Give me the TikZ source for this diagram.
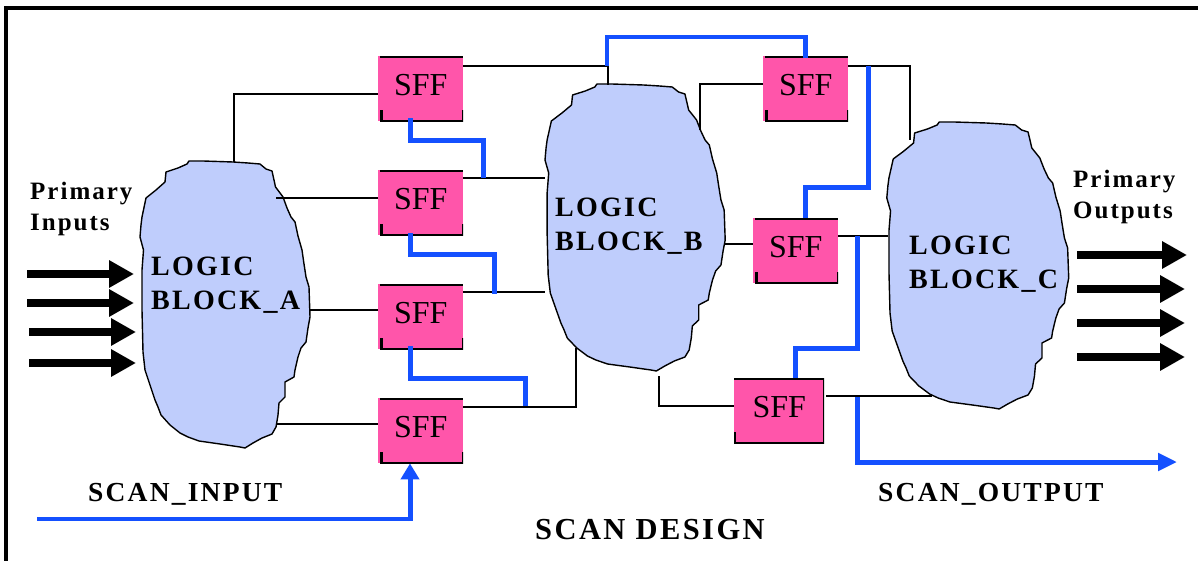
\documentclass[tikz,border=0pt]{standalone}
\usepackage{fontspec}
\setmainfont{Liberation Serif}
\newfontfamily\lblfont[LetterSpace=8]{Liberation Serif Bold}
\usetikzlibrary{arrows.meta,calc}
\definecolor{blobblue}{HTML}{BFCDFC}
\definecolor{sffpink}{HTML}{FF55AA}
\definecolor{scanblue}{HTML}{1450FF}
\newcommand{\blobpath}{(189,161) -- (203,161) -- (233,162) -- (248,163) -- (260,164) -- (266,169) -- (272,171) -- (274,180) -- (275.5,187) -- (283,197) -- (287,208) -- (291,217) -- (295,222) -- (298,236) -- (302,250) -- (304,264) -- (306,277) -- (309,287) -- (310,317) -- (308,328) -- (306,342) -- (301,348) -- (298,357) -- (295,370) -- (294,377) -- (285,382) -- (285,397) -- (279,403) -- (278,415) -- (276,427) -- (272,434) -- (262,438) -- (253,443) -- (245,448) -- (240,447) -- (220,444) -- (199,441) -- (188,437) -- (180,433) -- (170,425) -- (161,415) -- (158,407) -- (155,400) -- (150,385) -- (145,370) -- (143,352) -- (142,310) -- (142,270) -- (143.5,250) -- (140,237) -- (141,225) -- (142,217) -- (146,198) -- (156,190) -- (165,182) -- (166,172) -- (178,168) -- (187,164) -- cycle}
\tikzset{
  x=1pt,y=-1pt,
  blobshape/.style={draw=black,fill=blobblue,line width=1.4pt,line join=round},
  sffbox/.style={rectangle,fill=sffpink,draw=none,inner sep=0pt,anchor=north west,minimum width=85pt,
    text height=39pt,text depth=26pt,font=\fontsize{32}{34}\selectfont,
    path picture={\draw[black,line width=3pt]
      ([xshift=2pt]path picture bounding box.north west) -- (path picture bounding box.north east)
      ([xshift=3pt,yshift=11pt]path picture bounding box.south west) -- ([xshift=3pt]path picture bounding box.south west)
      -- (path picture bounding box.south east) -- ([yshift=11pt]path picture bounding box.south east);}},
  sffframed/.style={sffbox,minimum width=90pt,
    path picture={\draw[black,line width=3pt]
      (path picture bounding box.north west) -- (path picture bounding box.north east)
      -- (path picture bounding box.south east) -- (path picture bounding box.south west) -- ++(0,11pt);}},
  wire/.style={draw=black,line width=1.3pt},
  scan/.style={draw=scanblue,line width=5pt},
  scanthin/.style={draw=scanblue,line width=3.5pt},
  bigarrow/.style={draw=black,line width=8pt,-{Triangle[length=25pt,width=26pt]}},
  lbl/.style={anchor=base west,inner sep=0pt,align=left,font=\fontsize{28}{34}\lblfont},
  smalllbl/.style={anchor=base west,inner sep=0pt,align=left,font=\fontsize{25}{32}\lblfont},
  scanlbl/.style={anchor=base west,inner sep=0pt,font=\fontsize{27.5}{32}\lblfont},
}
\begin{document}
\begin{tikzpicture}
\useasboundingbox (0,0) rectangle (1198,561);
\fill[white] (0,0) rectangle (1198,561);
% frame
\draw[black,line width=3.5pt] (6,561) -- (6,8) -- (1198,8);
% port coordinates on the logic blocks
\coordinate (aTop) at (234,162);
\coordinate (aS2) at (276,198);
\coordinate (aS3) at (310,310);
\coordinate (aS4) at (276,424);
\coordinate (bTop) at (608,85);
\coordinate (bS2) at (545,178);
\coordinate (bS3) at (545,292);
\coordinate (bS4) at (576,348);
\coordinate (bS5) at (700,130);
\coordinate (bS6) at (725,244);
\coordinate (bS7) at (659,376);
\coordinate (cS5) at (910,140);
\coordinate (cS6) at (888,236);
\coordinate (cS7) at (932,396);
% flip-flops
\node[sffbox] (sff1) at (378,56) {SFF};
\node[sffbox] (sff2) at (378,170) {SFF};
\node[sffbox] (sff3) at (378,284) {SFF};
\node[sffbox] (sff4) at (378,398) {SFF};
\node[sffbox] (sff5) at (763,56) {SFF};
\node[sffbox] (sff6) at (753,218) {SFF};
\node[sffframed] (sff7) at (734,378) {SFF};
% logic blocks
\path[blobshape] \blobpath;
\begin{scope}[shift={(396.6,-77)},xscale=1.06]
\path[blobshape] \blobpath;
\end{scope}
\begin{scope}[shift={(737,-39)},xscale=1.07]
\path[blobshape] \blobpath;
\end{scope}
\node[lbl] (la) at (151,309) {LOGIC\\BLOCK\_A};
\node[lbl] (lb) at (555,251) {LOGIC\\BLOCK\_B};
\node[lbl] (lc) at (909,288) {LOGIC\\BLOCK\_C};
% black wires
\draw[wire] (aTop) |- ($(sff1.north west)+(0,38)$);
\draw[wire] (aS2) -- ($(sff2.north west)+(0,28)$);
\draw[wire] (aS3) -- ($(sff3.north west)+(0,26)$);
\draw[wire] (aS4) -- ($(sff4.north west)+(0,26)$);
\draw[wire] ($(sff1.north east)+(0,10)$) -| (bTop);
\draw[wire] ($(sff2.north east)+(0,8)$) -- (bS2);
\draw[wire] ($(sff3.north east)+(0,8)$) -- (bS3);
\draw[wire] ($(sff4.north east)+(0,9)$) -| (bS4);
\draw[wire] ($(sff5.north west)+(0,28)$) -| (bS5);
\draw[wire] ($(sff5.north east)+(0,10)$) -| (cS5);
\draw[wire] (bS6) -- ($(sff6.north west)+(0,26)$);
\draw[wire] ($(sff6.north east)+(0,18)$) -- (cS6);
\draw[wire] (bS7) |- ($(sff7.north west)+(0,28)$);
\draw[wire] ($(sff7.north east)+(2,18)$) -- (cS7);
% blue scan chain
\coordinate (scanIn) at (37,519);
\coordinate (scanOut) at (1177,462);
\draw[scan] ($(sff1.south west)+(32,-3)$) |- (483,141) -- (483,178);
\draw[scan] ($(sff2.south west)+(32,-2)$) |- (494,254) -- (494,294);
\draw[scan] ($(sff3.south west)+(32,-3)$) |- (525,378) -- (525,406);
\draw[scanthin] (607,66) |- (805,37);
\draw[scan] (805,35.5) -- ($(sff5.north west)+(42,2)$);
\draw[scan] (868,66) |- (805,188) -- ($(sff6.north west)+(52,0)$);
\draw[scan] (857,236) |- (795,348) -- ($(sff7.north west)+(61,0)$);
\draw[scan,-{Triangle[length=19pt,width=17pt]}] (857,397) |- (scanOut);
\draw[scanthin] (scanIn) -| (410,490);
\draw[scan,-{Triangle[length=16pt,width=18pt]}] (410,521) -- (sff4.south -| 410,0);
% primary arrows
\coordinate (i1s) at (27,274); \coordinate (i1e) at (134,274);
\coordinate (i2s) at (27,303); \coordinate (i2e) at (134,303);
\coordinate (i3s) at (29,332); \coordinate (i3e) at (136,332);
\coordinate (i4s) at (29,363); \coordinate (i4e) at (136,363);
\coordinate (o1s) at (1077,255); \coordinate (o1e) at (1187,255);
\coordinate (o2s) at (1077,289); \coordinate (o2e) at (1185,289);
\coordinate (o3s) at (1077,323); \coordinate (o3e) at (1185,323);
\coordinate (o4s) at (1077,357); \coordinate (o4e) at (1185,357);
\foreach \n in {i1,i2,i3,i4,o1,o2,o3,o4} \draw[bigarrow] (\n s) -- (\n e);
% labels
\node[smalllbl] (pin) at (30,231) {Primary\\Inputs};
\node[smalllbl] (pout) at (1073,219) {Primary\\Outputs};
\node[scanlbl] (si) at (88,501) {SCAN\_INPUT};
\node[scanlbl] (so) at (878,501) {SCAN\_OUTPUT};
\node[scanlbl,font=\fontsize{30.5}{34}\lblfont] (title) at (535,539) {SCAN DESIGN};
\end{tikzpicture}
\end{document}
